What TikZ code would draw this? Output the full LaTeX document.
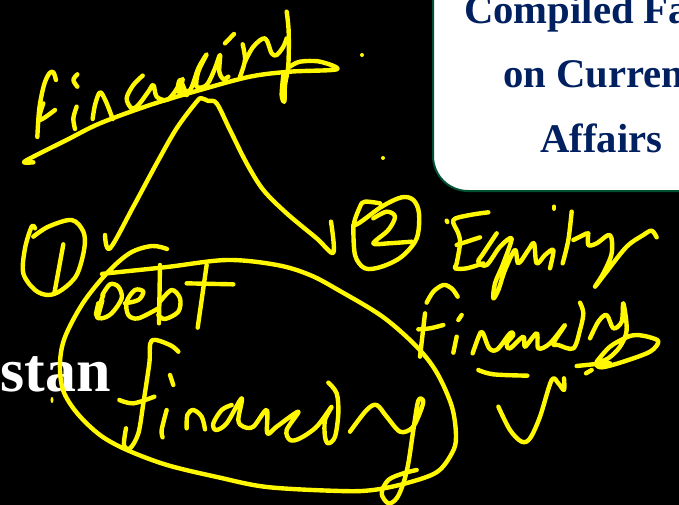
\documentclass[tikz,border=0pt]{standalone}
\usepackage{fontspec}
\setmainfont{Liberation Serif}
\definecolor{inkyellow}{RGB}{255,248,0}
\definecolor{boxnavy}{RGB}{0,32,96}
\definecolor{boxgreen}{RGB}{0,80,50}
\newcommand{\inkline}[1]{\draw[ink] plot[smooth,tension=0.55] coordinates {#1};}
\tikzset{
	ink/.style={draw=inkyellow,line width=4.4pt,line cap=round,line join=round},
	titletext/.style={anchor=base west,inner sep=0pt,text=boxnavy,font=\fontsize{40.7}{48}\selectfont\bfseries},
	zoomed/.style={shift={#1},scale=0.33333}
}
\begin{document}
\begin{tikzpicture}[x=1pt,y=-1pt]
	\useasboundingbox (0,0) rectangle (679,505);
	\clip (0,0) rectangle (679,505);
	\fill[black] (0,0) rectangle (679,505);
	% slide behind the ink
	\draw[fill=white,draw=boxgreen,line width=2pt,rounded corners=35pt] (433,-60) rectangle (760,191);
	\node[titletext] (title1) at (464,24) {Compiled Fa};
	\node[titletext] (title2) at (503,88) {on Curren};
	\node[titletext] (title3) at (540,152.5) {Affairs};
	\node[anchor=base east,inner sep=0pt,text=white,font=\fontsize{62}{68}\selectfont\bfseries] (side) at (111,391) {stan};
	% top word, its underline and the two branches
	\begin{scope}[zoomed={(20,5)}]
		\inkline{(108,225)(100,202)(88,205)(72,240)(58,310)(52,396)}
		\inkline{(70,295)(58,345)(105,315)}
		\inkline{(172,208)(160,225)(172,245)}
		\inkline{(170,305)(160,340)(165,372)}
		\inkline{(218,342)(225,300)(240,262)(258,290)(278,342)}
		\inkline{(368,212)(340,240)(320,280)(335,310)(355,300)(385,260)(400,240)(410,275)(440,285)(465,260)(488,222)(480,260)(500,270)}
	\end{scope}
	\begin{scope}[zoomed={(170,5)}]
		\inkline{(50,270)(30,225)(25,260)(60,255)(85,190)(110,148)(85,200)(80,245)(110,240)(135,190)(150,150)(148,200)(160,222)(175,215)}
		\inkline{(165,115)(192,87)}
		\inkline{(210,215)(225,165)(218,118)}
		\inkline{(225,170)(250,125)(285,100)(305,145)(320,150)(340,125)(350,100)}
		\inkline{(350,20)(356,80)(355,180)(345,240)(343,290)(335,270)(340,210)}
	\end{scope}
	\begin{scope}[zoomed={(0,0)}]
		\inkline{(100,487)(72,487)(100,470)(200,420)(300,370)(450,315)(600,270)(750,230)(870,215)(1010,208)(960,185)(900,185)(870,200)}
		\inkline{(315,705)(330,745)(400,620)(470,490)(530,385)(590,305)(605,295)(625,303)(650,310)(690,390)(740,490)(790,570)(860,640)(950,715)(1000,758)(993,665)}
	\end{scope}
	% numbered circles
	\begin{scope}[zoomed={(15,215)}]
		\inkline{(55,65)(100,35)(170,15)(205,50)(208,100)(185,180)(140,225)(100,240)(60,225)(25,175)(30,100)(50,35)(60,40)}
		\inkline{(145,88)(118,235)}
		% debt
		\inkline{(265,240)(245,300)(260,310)(290,295)(320,250)(310,215)(285,208)(262,240)}
		\inkline{(250,265)(243,300)(262,255)(250,300)}
		\inkline{(330,265)(370,255)(385,230)(360,225)(335,260)(340,300)(370,310)(430,280)}
		\inkline{(435,150)(432,325)}
		\inkline{(435,260)(470,225)(495,250)(490,290)(450,312)(430,300)}
		\inkline{(575,150)(548,338)}
		\inkline{(515,205)(655,208)}
	\end{scope}
	\begin{scope}[zoomed={(345,190)}]
		\inkline{(105,40)(60,35)(45,50)(30,105)(110,50)(170,22)(205,30)(222,70)(215,145)(170,200)(110,230)(60,235)(30,195)(25,105)}
		\inkline{(85,85)(125,65)(150,80)(130,120)(85,160)(130,160)(200,155)}
	\end{scope}
	% big loop round the left word
	\inkline{(167,249)(152,246)(130,253)(107,273)(83,303)(65,337)(60,363)(63,390)(77,413)(100,435)(127,450)(167,465)(217,477)(267,487)(340,491)(373,490)(407,483)(437,472)(452,453)(456,437)(452,407)(437,373)(417,347)(383,317)(340,291)(310,275)(277,265)(227,260)(167,267)(110,273)(102,274)}
	\begin{scope}[zoomed={(110,330)}]
		\inkline{(205,65)(180,45)(125,32)(118,100)(100,220)(85,310)(60,355)(42,345)(48,295)}
		\inkline{(28,210)(70,220)(133,200)}
		\inkline{(180,135)(190,165)}
		\inkline{(170,240)(155,300)(158,322)}
		\inkline{(230,295)(232,255)(250,240)(275,260)(285,298)}
		\inkline{(365,225)(335,240)(310,280)(318,300)(350,280)(395,205)(385,270)(400,290)(430,290)(470,240)(472,310)(500,290)(565,245)(530,300)(540,330)(570,325)(620,290)(665,230)(645,270)(645,320)(655,340)(675,320)(685,250)(680,190)(655,158)}
		\inkline{(720,305)(770,240)(800,225)(830,260)(870,305)(905,295)(925,260)(940,215)(925,212)(910,300)(895,400)(880,460)(860,505)(835,520)(815,490)(835,450)(880,430)(920,420)}
	\end{scope}
	% right word
	\begin{scope}[zoomed={(440,200)}]
		\inkline{(145,37)(90,45)(40,60)(55,100)(60,130)(50,190)(45,205)(80,205)(130,190)}
		\inkline{(50,135)(120,112)}
		\inkline{(170,100)(130,160)(115,185)(140,195)(180,140)(215,115)(190,190)(165,250)(160,295)(175,270)(195,210)(225,150)(235,190)(265,150)(282,130)(290,190)(315,165)(340,150)(330,205)}
		\inkline{(395,35)(385,120)(368,190)}
		\inkline{(400,120)(440,100)}
		\inkline{(445,100)(445,135)(470,130)(510,105)(515,160)(490,220)(465,260)(500,215)(560,140)(610,105)(635,92)(650,112)}
		\inkline{(342,20)(342,26)}
		\inkline{(20,62)(22,66)}
	\end{scope}
	\begin{scope}[zoomed={(410,280)}]
		\inkline{(50,68)(70,35)(100,15)(125,25)(143,50)}
		\inkline{(45,100)(30,230)}
		\inkline{(25,148)(60,145)(100,135)}
		\inkline{(155,105)(145,120)}
		\inkline{(140,170)(130,218)}
		\inkline{(188,220)(208,165)(218,158)(238,205)(262,208)(300,160)(310,165)(290,190)(300,205)(340,170)(345,200)(380,160)(385,205)(420,190)(465,135)(430,190)(445,195)(490,205)(510,150)(520,100)(510,68)}
		\inkline{(540,175)(565,125)(590,105)(610,145)(635,125)(640,70)(650,150)(630,200)(595,235)(560,250)(575,262)(640,245)(720,215)(745,185)(720,172)(680,165)(650,172)(600,200)(560,245)}
		\inkline{(500,258)(560,252)(600,250)}
		\inkline{(528,280)(545,270)}
	\end{scope}
	% dash and tick
	\begin{scope}[zoomed={(340,240)}]
		\inkline{(415,390)(460,403)(562,407)}
		\inkline{(475,500)(510,570)(545,605)(570,595)(600,530)(635,420)(655,430)(672,450)(672,415)}
	\end{scope}
	% stray dots
	\fill[inkyellow] (362,55) circle (2pt);
	\fill[inkyellow] (383,158) circle (2pt);
	\fill[inkyellow] (52,400) ellipse (1.5pt and 3pt);
\end{tikzpicture}
\end{document}
